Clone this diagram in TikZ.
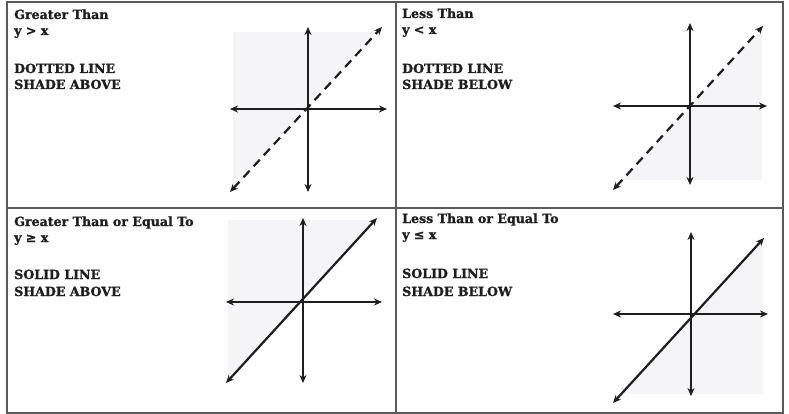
\documentclass[tikz,border=0pt]{standalone}
\usepackage{fontspec}
\setmainfont{DejaVu Serif}[BoldFeatures={FakeBold=1.2}]
\usepackage{tikz}
\usetikzlibrary{arrows.meta}
\definecolor{ink}{HTML}{1E1E1E}
\definecolor{frame}{HTML}{5A5A5A}
\definecolor{shadegray}{HTML}{F5F5F7}
\tikzset{%
	txt/.style = { anchor=base west, inner sep=0pt, text=ink, font=\fontsize{12.6}{16}\selectfont\bfseries },
	axis/.style = { ink, line width=2.3pt, {Stealth[length=8pt,width=7pt]}-{Stealth[length=8pt,width=7pt]} },
	boundary/.style = { axis, line width=2.2pt },
	dashedline/.style = { boundary, dash pattern=on 9pt off 6pt },
	shaded/.style = { fill=shadegray },
	gridline/.style = { frame, line width=1.2pt }
}
\begin{document}
\begin{tikzpicture}[x=1pt, y=-1pt]
	\useasboundingbox (0,0) rectangle (789,414);
	% table
	\draw[gridline] (7,2) rectangle (783,413);
	\draw[gridline] (396,2) -- (396,413);
	\draw[gridline] (7,208) -- (783,208);

	% 1. greater than
	\node[txt] (t1a) at (14,19) {Greater Than};
	\node[txt] (t1b) at (14,35) {y > x};
	\node[txt] (t1c) at (14,73) {DOTTED LINE};
	\node[txt] (t1d) at (14,89) {SHADE ABOVE};
	\begin{scope}[shift={(308,109)}]
		\fill[shaded] (-75,-77) -- (69,-77) -- (-75,80) -- cycle;
		\coordinate (l1) at (-78,0);  \coordinate (r1) at (79,0);
		\coordinate (u1) at (0,-82);  \coordinate (d1) at (0,83);
		\coordinate (p1) at (-78,83); \coordinate (q1) at (74,-82);
		\draw[axis] (l1) -- (r1);
		\draw[axis] (d1) -- (u1);
		\draw[dashedline] (p1) -- (q1);
	\end{scope}

	% 2. less than
	\node[txt] (t2a) at (402,18) {Less Than};
	\node[txt] (t2b) at (402,34) {y < x};
	\node[txt] (t2c) at (402,73) {DOTTED LINE};
	\node[txt] (t2d) at (402,89) {SHADE BELOW};
	\begin{scope}[shift={(690,106)}]
		\fill[shaded] (-68,74) -- (72,74) -- (72,-78) -- cycle;
		\coordinate (l2) at (-77,0);  \coordinate (r2) at (77,0);
		\coordinate (u2) at (0,-83);  \coordinate (d2) at (0,79);
		\coordinate (p2) at (-77,84); \coordinate (q2) at (73,-80);
		\draw[axis] (l2) -- (r2);
		\draw[axis] (d2) -- (u2);
		\draw[dashedline] (p2) -- (q2);
	\end{scope}

	% 3. greater than or equal to
	\node[txt] (t3a) at (14,226) {Greater Than or Equal To};
	\node[txt] (t3b) at (14,242) {y ≥ x};
	\node[txt] (t3c) at (14,279) {SOLID LINE};
	\node[txt] (t3d) at (14,296) {SHADE ABOVE};
	\begin{scope}[shift={(303,302)}]
		\fill[shaded] (-75,-82) -- (72,-82) -- (-75,79) -- cycle;
		\coordinate (l3) at (-77,0);  \coordinate (r3) at (79,0);
		\coordinate (u3) at (0,-84);  \coordinate (d3) at (0,81);
		\coordinate (p3) at (-77,81); \coordinate (q3) at (74,-84);
		\draw[axis] (l3) -- (r3);
		\draw[axis] (d3) -- (u3);
		\draw[boundary] (p3) -- (q3);
	\end{scope}

	% 4. less than or equal to
	\node[txt] (t4a) at (402,223) {Less Than or Equal To};
	\node[txt] (t4b) at (402,239) {y ≤ x};
	\node[txt] (t4c) at (402,278) {SOLID LINE};
	\node[txt] (t4d) at (402,296) {SHADE BELOW};
	\begin{scope}[shift={(691,314)}]
		\fill[shaded] (-70,80) -- (72,80) -- (72,-74) -- cycle;
		\coordinate (l4) at (-78,0);  \coordinate (r4) at (77,0);
		\coordinate (u4) at (0,-82);  \coordinate (d4) at (0,82);
		\coordinate (p4) at (-78,89); \coordinate (q4) at (73,-76);
		\draw[axis] (l4) -- (r4);
		\draw[axis] (d4) -- (u4);
		\draw[boundary] (p4) -- (q4);
	\end{scope}
\end{tikzpicture}
\end{document}
